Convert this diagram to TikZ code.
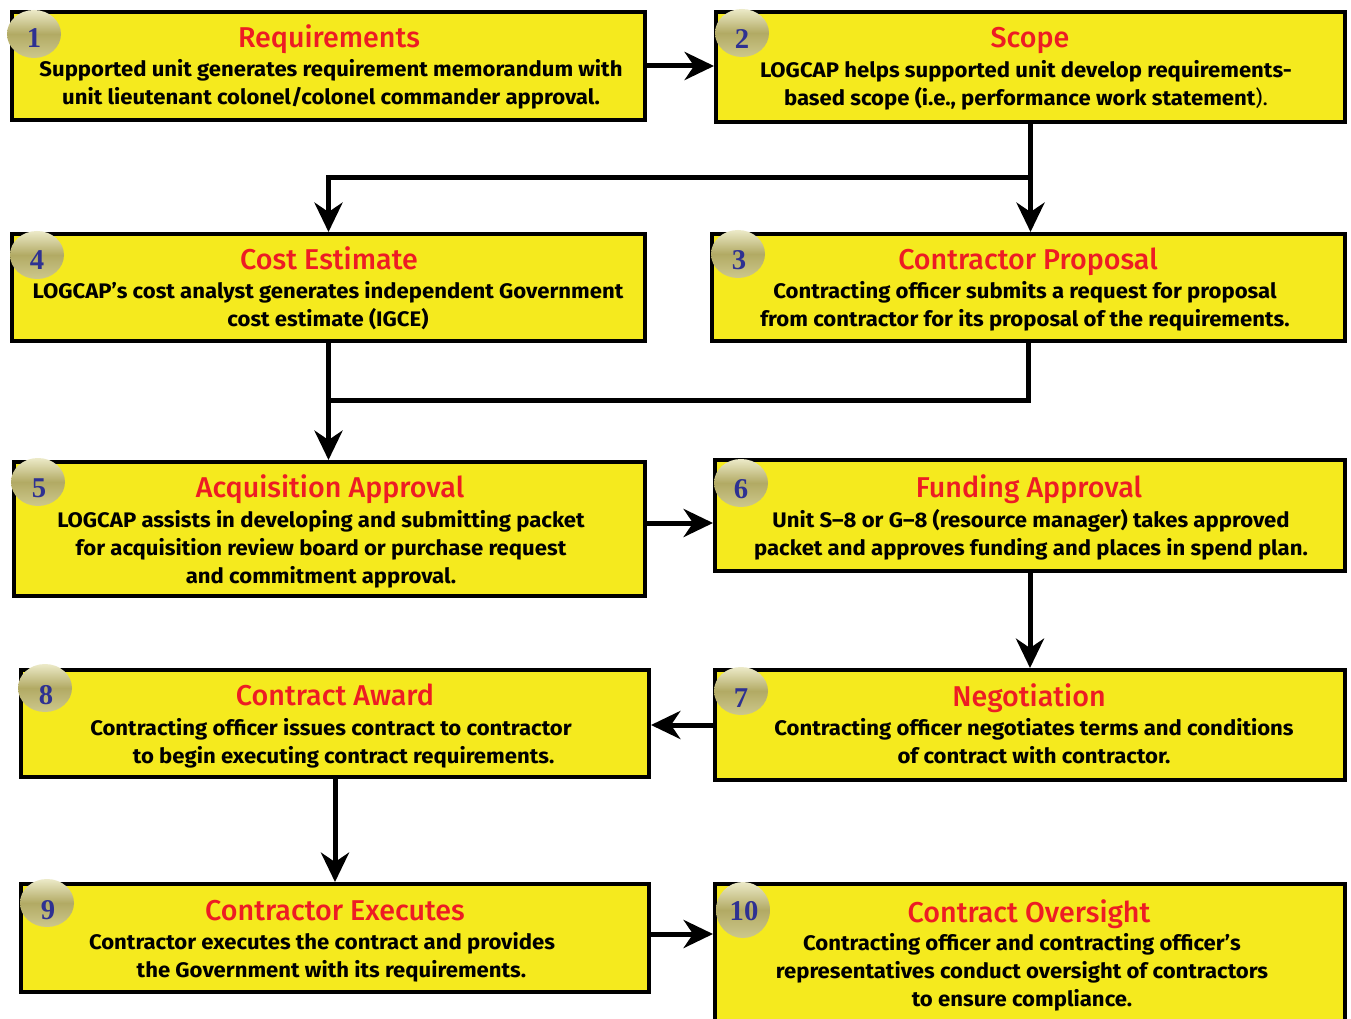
\documentclass[tikz,border=0pt]{standalone}
\usepackage{fontspec}
\setmainfont{Fira Sans}
\newfontfamily\bodyfont{Fira Sans}[FakeStretch=1.05]
\newfontfamily\ttlfont{Fira Sans Medium}
\newfontfamily\numfont{Liberation Serif}
\usetikzlibrary{arrows.meta,calc,shapes.geometric}
\definecolor{boxyellow}{RGB}{245,234,30}
\definecolor{titlered}{RGB}{237,28,36}
\definecolor{numblue}{RGB}{46,49,146}
\definecolor{circtop}{RGB}{236,234,200}
\definecolor{circmid}{RGB}{178,170,100}
\definecolor{circbot}{RGB}{205,200,140}
\newdimen\pxu \pxu=0.75pt
\begin{document}
\begin{tikzpicture}[x=0.75pt,y=-0.75pt,
  box/.style={draw=black, line width=3pt, fill=boxyellow, rectangle, inner sep=0pt},
  ttl/.style={text=titlered, font=\ttlfont\fontsize{21.5}{25}\selectfont, anchor=base, inner sep=0pt},
  body/.style={font=\bodyfont\fontsize{15.8}{21}\selectfont\bfseries, align=center, anchor=north, inner sep=0pt},
  numcirc/.style={ellipse, minimum width=54\pxu, minimum height=48\pxu, inner sep=0pt, top color=circtop, bottom color=circbot, middle color=circmid, draw=none},
  num/.style={font=\numfont\bfseries\fontsize{21.5}{21}\selectfont, text=numblue, anchor=base, inner sep=0pt},
  arr/.style={line width=3.75pt, -{Stealth[length=22pt,width=21pt,inset=7pt]}},
  link/.style={line width=3.75pt}]
\useasboundingbox (0,0) rectangle (1351,1019);
\fill[white] (0,0) rectangle (1351,1019);

% boxes
\node[box, minimum width=633\pxu, minimum height=108\pxu] (b1) at (328.5,66) {};
\node[box, minimum width=629\pxu, minimum height=110\pxu] (b2) at (1030.5,67) {};
\node[box, minimum width=633\pxu, minimum height=107\pxu] (b4) at (328.5,287.5) {};
\node[box, minimum width=633\pxu, minimum height=107\pxu] (b3) at (1028.5,287.5) {};
\node[box, minimum width=631\pxu, minimum height=134\pxu] (b5) at (329.5,529) {};
\node[box, minimum width=630\pxu, minimum height=111\pxu] (b6) at (1030,515.5) {};
\node[box, minimum width=628\pxu, minimum height=107\pxu] (b8) at (335,723.5) {};
\node[box, minimum width=630\pxu, minimum height=110\pxu] (b7) at (1030,725) {};
\node[box, minimum width=628\pxu, minimum height=108\pxu] (b9) at (335,938) {};
\node[box, minimum width=630\pxu, minimum height=138\pxu] (b10) at (1030,953) {};

% circles and numbers
\node[numcirc] (c1) at (34,34) {};
\node[num] (n1) at (34,48) {1};
\node[numcirc] (c2) at (742,33) {};
\node[num] (n2) at (742,49) {2};
\node[numcirc] (c4) at (37,255) {};
\node[num] (n4) at (37,270) {4};
\node[numcirc] (c3) at (738,254) {};
\node[num] (n3) at (739,270) {3};
\node[numcirc] (c5) at (38,482) {};
\node[num] (n5) at (39,497) {5};
\node[numcirc] (c6) at (741,483) {};
\node[num] (n6) at (741,498) {6};
\node[numcirc] (c8) at (45,688) {};
\node[num] (n8) at (46,704) {8};
\node[numcirc] (c7) at (741,691) {};
\node[num] (n7) at (741,707) {7};
\node[numcirc] (c9) at (47,903) {};
\node[num] (n9) at (48,919) {9};
\node[numcirc, minimum height=56\pxu] (c10) at (743,910) {};
\node[num] (n10) at (744,920) {10};

% texts
\node[ttl] (t1) at (329,48) {Requirements};
\node[body] (d1) at (331,57) {\strut Supported unit generates requirement memorandum with\\unit lieutenant colonel/colonel commander approval.};
\node[ttl] (t2) at (1030,48) {Scope};
\node[body] (d2) at (1026,58) {\strut LOGCAP helps supported unit develop requirements-\\based scope (i.e., performance work statement{\mdseries ).}};
\node[ttl] (t4) at (329,270) {Cost Estimate};
\node[body] (d4) at (328,279) {\strut LOGCAP’s cost analyst generates independent Government\\cost estimate (IGCE)};
\node[ttl] (t3) at (1028,270) {Contractor Proposal};
\node[body] (d3) at (1025,279) {\strut Contracting officer submits a request for proposal\\from contractor for its proposal of the requirements.};
\node[ttl] (t5) at (330,497) {Acquisition Approval};
\node[body] (d5) at (321,508) {\strut LOGCAP assists in developing and submitting packet\\for acquisition review board or purchase request\\and commitment approval.};
\node[ttl] (t6) at (1029,497) {Funding Approval};
\node[body] (d6) at (1031,508) {\strut Unit S–8 or G–8 (resource manager) takes approved\\packet and approves funding and places in spend plan.};
\node[ttl] (t8) at (335,705) {Contract Award};
\node[body] (d8) at (331,716) {\strut Contracting officer issues contract to contractor\\\hspace*{1.2em}to begin executing contract requirements.};
\node[ttl] (t7) at (1029,706) {Negotiation};
\node[body] (d7) at (1034,716) {\strut Contracting officer negotiates terms and conditions\\of contract with contractor.};
\node[ttl] (t9) at (335,920) {Contractor Executes};
\node[body] (d9) at (322,930) {\strut Contractor executes the contract and provides\\\hspace*{0.9em}the Government with its requirements.};
\node[ttl] (t10) at (1029,922) {Contract Oversight};
\node[body] (d10) at (1022,931) {\strut Contracting officer and contracting officer’s\\representatives conduct oversight of contractors\\to ensure compliance.};

% connectors
\draw[arr] (b1.east) -- (b1.east -| b2.west);
\path (b2.south) ++(0,54) coordinate (j1);
\draw[arr] (b2.south) -- (b2.south |- b3.north);
\draw[arr] (j1) -| (b4.north);
\draw[arr] (b4.south) -- (b4.south |- b5.north);
\path (b4.south) ++(0,57) coordinate (j2);
\draw[link] (b3.south) |- (j2);
\path (b5.east) ++(0,-6) coordinate (a56);
\draw[arr] (a56) -- (a56 -| b6.west);
\draw[arr] (b6.south) -- (b6.south |- b7.north);
\draw[arr] (b7.west) -- (b7.west -| b8.east);
\draw[arr] (b8.south) -- (b8.south |- b9.north);
\path (b9.east) ++(0,-4) coordinate (a910);
\draw[arr] (a910) -- (a910 -| b10.west);
\end{tikzpicture}
\end{document}
